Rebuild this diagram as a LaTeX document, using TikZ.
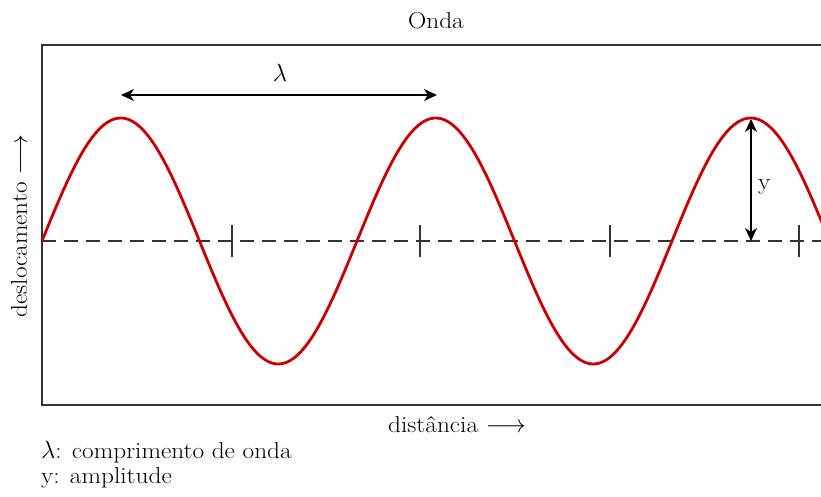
\documentclass[tikz,border=0pt]{standalone}
\usepackage{fontspec}
\setmainfont{Latin Modern Roman}[FakeStretch=1.1]
\usetikzlibrary{arrows.meta}
\begin{document}
\begin{tikzpicture}[x=1pt,y=-1pt,
  lbl/.style={font=\fontsize{23}{27}\selectfont, inner sep=0pt},
  dim/.style={draw=black, line width=1.5pt, {Stealth[length=13pt,width=12pt,inset=4pt]}-{Stealth[length=13pt,width=12pt,inset=4pt]}},
  frame/.style={draw=black!80, line width=1.5pt},
  wave/.style={draw=red!80!black, line width=2.8pt},
  axis/.style={draw=black!80, line width=1.4pt, dash pattern=on 14pt off 8pt},
  tick/.style={draw=black!80, line width=1.4pt}]
\useasboundingbox (0,0) rectangle (821,497);
% frame
\coordinate (tl) at (42,45);
\coordinate (tr) at (823,45);
\coordinate (bl) at (42,405);
\coordinate (br) at (823,405);
\draw[frame] (tr) -- (tl) -- (bl) -- (br);
% axis
\coordinate (a0) at (42,241);
\coordinate (a1) at (823,241);
\draw[axis] (a0) -- (a1);
\foreach \t [count=\i] in {232,420,610,799} {
  \coordinate (t\i a) at (\t,225);
  \coordinate (t\i b) at (\t,257);
  \draw[tick] (t\i a) -- (t\i b);
}
% wave
\draw[wave] plot[domain=42:823, samples=300, smooth] (\x, {241-123*sin((\x-42)*1.142857)});
% lambda
\coordinate (l0) at (121,95);
\coordinate (l1) at (437,95);
\draw[dim] (l0) -- (l1);
\node[lbl] (lam) at (280,73) {$\lambda$};
% amplitude
\coordinate (y0) at (751,119);
\coordinate (y1) at (751,241);
\draw[dim] (y0) -- (y1);
\node[lbl, anchor=west] (ylab) at (758,187) {y};
% texts
\node[lbl] (title) at (436,21) {Onda};
\node[lbl, rotate=90] (ylabel) at (19,226) {deslocamento $\longrightarrow$};
\node[lbl] (xlabel) at (457,425) {distância $\longrightarrow$};
\node[lbl, anchor=west] (leg1) at (41,452) {$\lambda$: comprimento de onda};
\node[lbl, anchor=west] (leg2) at (41,478) {y: amplitude};
\end{tikzpicture}
\end{document}
